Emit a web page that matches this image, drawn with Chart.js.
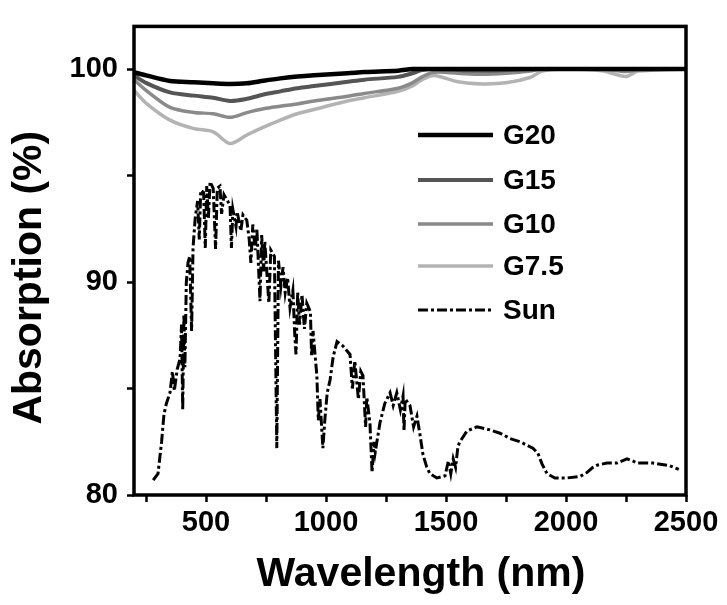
<!DOCTYPE html>
<html>
<head>
<meta charset="utf-8">
<script src="https://cdn.jsdelivr.net/npm/chart.js@4.4.1/dist/chart.umd.min.js"></script>
<style>
  html, body { margin: 0; padding: 0; background: #fff; }
  #wrap { width: 727px; height: 605px; }
</style>
</head>
<body>
<div id="wrap"><canvas id="chartAbs" width="727" height="605"></canvas></div>
<script>
// wavelength grid (nm) for the absorption curves
const gWave = [200, 250, 350, 450, 530, 600, 670, 740, 810, 880, 950, 1090, 1160, 1300, 1360, 1400, 1450, 1550, 1650, 1750, 1850, 1900, 2000, 2150, 2250, 2300, 2500];
const g20 = [99.85, 99.7, 99.44, 99.38, 99.33, 99.3, 99.33, 99.45, 99.56, 99.65, 99.71, 99.8, 99.86, 99.92, 100, 100, 100, 100, 100, 100, 100, 100, 100, 100, 100, 100, 100];
const g15 = [99.7, 99.35, 98.9, 98.75, 98.65, 98.5, 98.6, 98.8, 98.95, 99.1, 99.2, 99.4, 99.5, 99.63, 99.8, 99.95, 100, 99.95, 99.92, 99.95, 100, 100, 100, 100, 100, 100, 100];
const g10 = [99.5, 99.0, 98.2, 97.96, 97.9, 97.73, 97.95, 98.13, 98.25, 98.36, 98.5, 98.72, 98.85, 99.1, 99.35, 99.63, 99.85, 99.8, 99.75, 99.8, 99.9, 100, 100, 100, 99.88, 99.95, 100];
const g75 = [99.0, 98.4, 97.6, 97.2, 97.05, 96.5, 96.9, 97.27, 97.6, 97.9, 98.1, 98.5, 98.65, 98.95, 99.2, 99.5, 99.7, 99.4, 99.3, 99.35, 99.6, 99.9, 100, 99.92, 99.65, 99.9, 100];

// solar spectrum, scaled onto the same axis
const sunWave = [280, 300, 315, 325, 335, 350, 360, 368, 380, 392, 398, 403, 408, 412, 418, 425, 432, 440, 446, 455, 465, 472, 478, 490, 497, 503, 510, 517, 530, 540, 547, 558, 565, 575, 590, 600, 606, 612, 625, 630, 645, 654, 670, 680, 687, 695, 705, 712, 725, 732, 740, 745, 755, 762, 770, 785, 795, 802, 812, 821, 830, 840, 850, 862, 870, 875, 882, 890, 900, 910, 920, 935, 940, 946, 955, 962, 968, 975, 987, 995, 1005, 1017, 1030, 1046, 1070, 1100, 1110, 1120, 1135, 1145, 1154, 1165, 1170, 1183, 1192, 1200, 1205, 1225, 1245, 1267, 1280, 1295, 1310, 1321, 1325, 1330, 1350, 1365, 1379, 1392, 1404, 1420, 1433, 1462, 1496, 1510, 1520, 1530, 1540, 1550, 1558, 1587, 1629, 1683, 1725, 1767, 1808, 1862, 1883, 1900, 1921, 1954, 2004, 2058, 2087, 2112, 2129, 2171, 2212, 2254, 2300, 2362, 2433, 2470];
const sunAbs = [80.7, 81.0, 82.5, 83.8, 84.3, 84.8, 85.8, 84.9, 85.9, 86.4, 88.0, 84.0, 88.5, 86.0, 90.0, 90.9, 91.2, 87.7, 91.6, 93.0, 93.8, 92.0, 94.3, 94.2, 91.6, 94.5, 93.0, 94.7, 94.4, 91.55, 94.4, 94.5, 93.2, 94.1, 93.8, 93.6, 91.6, 93.4, 92.6, 93.3, 92.4, 93.15, 92.9, 92.0, 90.9, 92.7, 91.5, 92.5, 89.1, 92.2, 90.5, 91.9, 90.2, 89.0, 91.5, 91.2, 82.2, 91.0, 89.8, 90.7, 89.5, 90.2, 88.8, 89.6, 87.5, 86.6, 89.5, 88.0, 89.4, 87.8, 89.0, 88.6, 86.5, 87.7, 86.5, 85.6, 83.5, 84.5, 82.2, 83.5, 84.8, 85.4, 86.5, 87.2, 87.0, 86.6, 85.0, 86.3, 84.5, 85.8, 85.6, 83.2, 84.6, 83.4, 81.05, 82.5, 82.0, 83.4, 84.3, 84.8, 84.2, 84.8, 84.0, 84.65, 83.0, 84.5, 84.2, 83.2, 83.7, 82.8, 81.9, 81.3, 81.0, 80.8, 80.9, 81.6, 81.0, 81.7, 81.3, 82.3, 82.5, 83.0, 83.2, 83.06, 82.9, 82.65, 82.5, 82.2, 81.96, 81.46, 81.0, 80.8, 80.8, 80.87, 81.05, 81.3, 81.4, 81.5, 81.5, 81.7, 81.5, 81.5, 81.37, 81.2];

const seriesNames = ["G20", "G15", "G10", "G7.5", "Sun"];
const xTicks = [250, 500, 750, 1000, 1250, 1500, 1750, 2000, 2250, 2500];
const yTicks = [80, 85, 90, 95, 100];

const FONT = '"Liberation Sans", Arial, sans-serif';

function pts(xs, ys) {
    return xs.map((x, i) => ({ x: x, y: ys[i] }));
}

// legend drawn inside the plot area
const insideLegend = {
    id: "insideLegend",
    afterDatasetsDraw(chart, args, opts) {
        const ctx = chart.ctx;
        ctx.save();
        ctx.font = "bold 28px " + FONT;
        ctx.textBaseline = "middle";
        ctx.fillStyle = "#000";
        chart.data.datasets.forEach((ds, i) => {
            const y = opts.ys[i];
            ctx.beginPath();
            ctx.strokeStyle = ds.borderColor;
            ctx.lineWidth = ds.borderWidth;
            ctx.setLineDash(ds.borderDash || []);
            ctx.moveTo(opts.x0, y);
            ctx.lineTo(opts.x1, y);
            ctx.stroke();
            ctx.setLineDash([]);
            ctx.fillText(ds.label, opts.textX, y + 1);
        });
        ctx.restore();
    }
};

// box frame + axis titles
const frameAndTitles = {
    id: "frameAndTitles",
    afterDraw(chart) {
        const { ctx, chartArea: a } = chart;
        ctx.save();
        ctx.strokeStyle = "#000";
        ctx.lineWidth = 3.5;
        ctx.strokeRect(a.left, a.top, a.right - a.left, a.bottom - a.top);

        ctx.fillStyle = "#000";
        ctx.font = "bold 41px " + FONT;
        ctx.textAlign = "center";
        ctx.textBaseline = "middle";
        ctx.fillText("Wavelength (nm)", (a.left + a.right) / 2 + 11, 575);

        ctx.translate(30, (a.top + a.bottom) / 2 + 17);
        ctx.rotate(-Math.PI / 2);
        ctx.fillText("Absorption (%)", 0, 0);
        ctx.restore();
    }
};

new Chart(document.getElementById("chartAbs"), {
    type: "line",
    data: {
        datasets: [
            { label: seriesNames[0], data: pts(gWave, g20), borderColor: "#000000", borderWidth: 4.5, tension: 0.3 },
            { label: seriesNames[1], data: pts(gWave, g15), borderColor: "#555555", borderWidth: 4, tension: 0.3 },
            { label: seriesNames[2], data: pts(gWave, g10), borderColor: "#8a8a8a", borderWidth: 3.5, tension: 0.3 },
            { label: seriesNames[3], data: pts(gWave, g75), borderColor: "#b3b3b3", borderWidth: 3.5, tension: 0.3 },
            { label: seriesNames[4], data: pts(sunWave, sunAbs), borderColor: "#000000", borderWidth: 3, borderDash: [10, 3, 3, 3], tension: 0 }
        ]
    },
    options: {
        responsive: false,
        devicePixelRatio: 1,
        animation: false,
        layout: { padding: { left: 0, right: 41, top: 15, bottom: 0 } },
        elements: { point: { radius: 0 } },
        plugins: {
            legend: { display: false },
            tooltip: { enabled: false },
            insideLegend: { x0: 418, x1: 493, textX: 503, ys: [135, 180, 224, 266, 310] }
        },
        scales: {
            x: {
                type: "linear",
                min: 200,
                max: 2500,
                afterBuildTicks: s => { s.ticks = xTicks.map(v => ({ value: v })); },
                afterFit: s => { s.height = 110; },
                grid: { drawOnChartArea: false, tickLength: 7, tickColor: "#000", tickWidth: 2.5 },
                border: { display: false },
                ticks: {
                    autoSkip: false,
                    maxRotation: 0,
                    padding: 4,
                    color: "#000",
                    font: { family: FONT, size: 29, weight: "bold" },
                    callback: v => (v % 500 === 0 ? v : "")
                }
            },
            y: {
                min: 80,
                max: 102,
                afterBuildTicks: s => { s.ticks = yTicks.map(v => ({ value: v })); },
                afterFit: s => { s.width = 134; },
                grid: { drawOnChartArea: false, tickLength: 7, tickColor: "#000", tickWidth: 2.5 },
                border: { display: false },
                ticks: {
                    padding: 9,
                    color: "#000",
                    font: { family: FONT, size: 29, weight: "bold" },
                    callback: v => (v % 10 === 0 ? v : "")
                }
            }
        }
    },
    plugins: [insideLegend, frameAndTitles]
});
</script>
</body>
</html>
